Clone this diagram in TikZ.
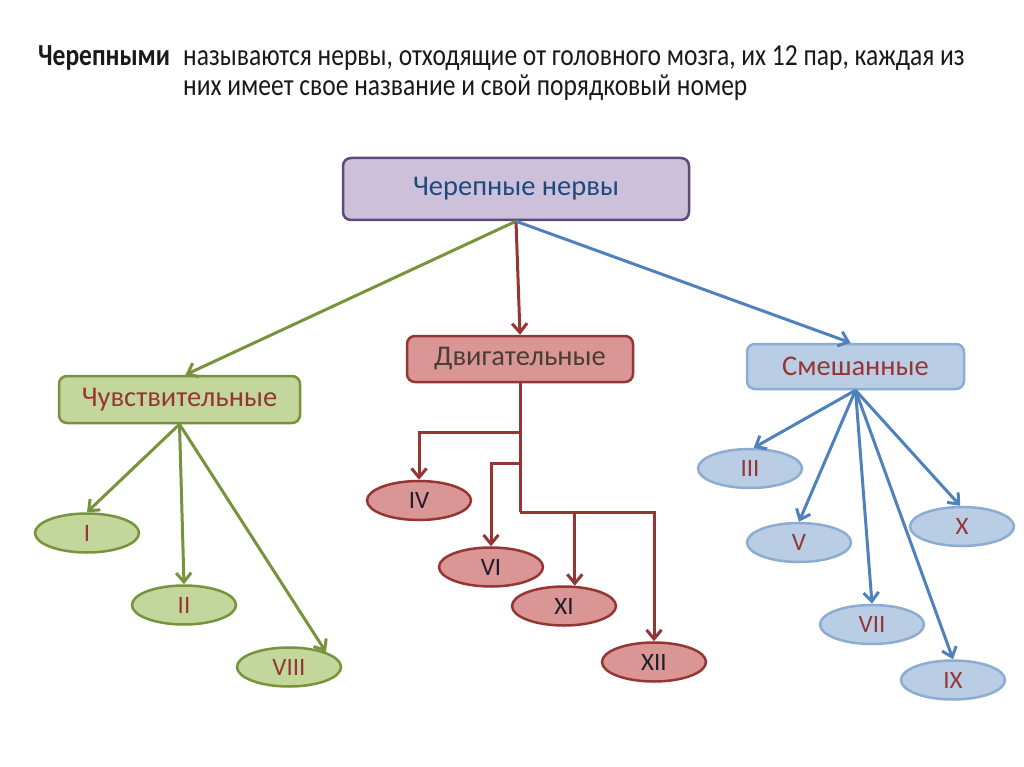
\documentclass[tikz,border=0pt]{standalone}
\usepackage{fontspec}
\setmainfont{Carlito}
\usetikzlibrary{arrows.meta,shapes.geometric,calc}
\definecolor{gline}{RGB}{119,147,60}
\definecolor{gfill}{RGB}{195,214,155}
\definecolor{rline}{RGB}{150,54,52}
\definecolor{rfill}{RGB}{217,150,148}
\definecolor{bline}{RGB}{79,129,189}
\definecolor{bfill}{RGB}{185,205,229}
\definecolor{bedge}{RGB}{140,172,210}
\definecolor{pfill}{RGB}{204,192,218}
\definecolor{pline}{RGB}{94,73,120}
\definecolor{ptext}{RGB}{31,73,125}
\definecolor{dtext}{RGB}{72,62,52}
\definecolor{ntext}{RGB}{30,30,45}
\tikzset{
  catbox/.style={rectangle,rounded corners=8pt,line width=2.5pt,inner sep=0pt,font=\fontsize{28.5}{30}\selectfont},
  nerve/.style={ellipse,line width=2.5pt,minimum width=104pt,minimum height=39pt,inner sep=0pt,text=rline,font=\fontsize{25}{27}\selectfont},
  conn/.style={line width=3pt,-{Straight Barb[length=9pt,width=15pt,line width=3pt]}},
  hdr/.style={anchor=base west,inner sep=0pt,text={rgb,255:red,25;green,25;blue,25}}
}
\newcommand{\hdrtext}[1]{\scalebox{1}[1.2]{\fontsize{25.5}{27}\selectfont #1}}
\begin{document}
\begin{tikzpicture}[x=1pt,y=-1pt]
\useasboundingbox (0,0) rectangle (1024,767);
\fill[white] (0,0) rectangle (1024,767);
% header
\node[hdr] (h1) at (38,66) {\hdrtext{\bfseries Черепными}};
\node[hdr] (h2) at (183,66) {\hdrtext{называются нервы, отходящие от головного мозга, их 12 пар, каждая из}};
\node[hdr] (h3) at (183,96) {\hdrtext{них имеет свое название и свой порядковый номер}};
% main boxes
\node[catbox,draw=pline,fill=pfill,text=ptext,minimum width=346pt,minimum height=62pt] (top) at (516,189) {Черепные нервы};
\node[catbox,draw=gline,fill=gfill,text=rline,minimum width=241pt,minimum height=47pt] (ch) at (179.5,399.5) {Чувствительные};
\node[catbox,draw=rline,fill=rfill,text=dtext,minimum width=226pt,minimum height=46pt] (dv) at (520,359) {Двигательные};
\node[catbox,draw=bedge,fill=bfill,text=rline,minimum width=217pt,minimum height=45pt] (sm) at (855.5,366.5) {Смешанные};
% green nerves
\node[nerve,draw=gline,fill=gfill] (e1) at (87,533) {I};
\node[nerve,draw=gline,fill=gfill] (e2) at (184,605) {II};
\node[nerve,draw=gline,fill=gfill] (e8) at (289,667) {VIII};
% red nerves
\node[nerve,draw=rline,fill=rfill,text=ntext] (e4) at (419,500.5) {IV};
\node[nerve,draw=rline,fill=rfill,text=ntext] (e6) at (491,567) {VI};
\node[nerve,draw=rline,fill=rfill,text=ntext] (e11) at (564,606) {XI};
\node[nerve,draw=rline,fill=rfill,text=ntext] (e12) at (654,662) {XII};
% blue nerves
\node[nerve,draw=bedge,fill=bfill] (e3) at (750,468.5) {III};
\node[nerve,draw=bedge,fill=bfill] (e5) at (799,542.5) {V};
\node[nerve,draw=bedge,fill=bfill] (e7) at (872,624.5) {VII};
\node[nerve,draw=bedge,fill=bfill] (e9) at (953,680) {IX};
\node[nerve,draw=bedge,fill=bfill] (e10) at (962,526.5) {X};
% top connectors
\draw[conn,gline] (top.south) -- ($(ch.north)+(6,0)$);
\draw[conn,rline] (top.south) -- (dv.north);
\draw[conn,bline] (top.south) -- ($(sm.north)+(-5,0)$);
% green connectors
\draw[conn,gline] (ch.south) -- (e1.north);
\draw[conn,gline] (ch.south) -- (e2.north);
\draw[conn,gline] (ch.south) -- (e8.22);
% red tree
\coordinate (j1) at ($(dv.south)+(0,49)$);
\coordinate (j2) at ($(dv.south)+(0,80)$);
\coordinate (j3) at ($(dv.south)+(0,129)$);
\draw[rline,line width=3pt] (dv.south) -- (j3);
\draw[conn,rline] (j1) -| (e4.north);
\draw[conn,rline] (j2) -| (e6.north);
\draw[conn,rline] (j3) -| (e11.62);
\draw[conn,rline] (j3) -| (e12.north);
% blue connectors
\draw[conn,bline] (sm.south) -- (e3.80);
\draw[conn,bline] (sm.south) -- (e5.north);
\draw[conn,bline] (sm.south) -- (e7.north);
\draw[conn,bline] (sm.south) -- (e9.north);
\draw[conn,bline] (sm.south) -- (e10.95);
\end{tikzpicture}
\end{document}
